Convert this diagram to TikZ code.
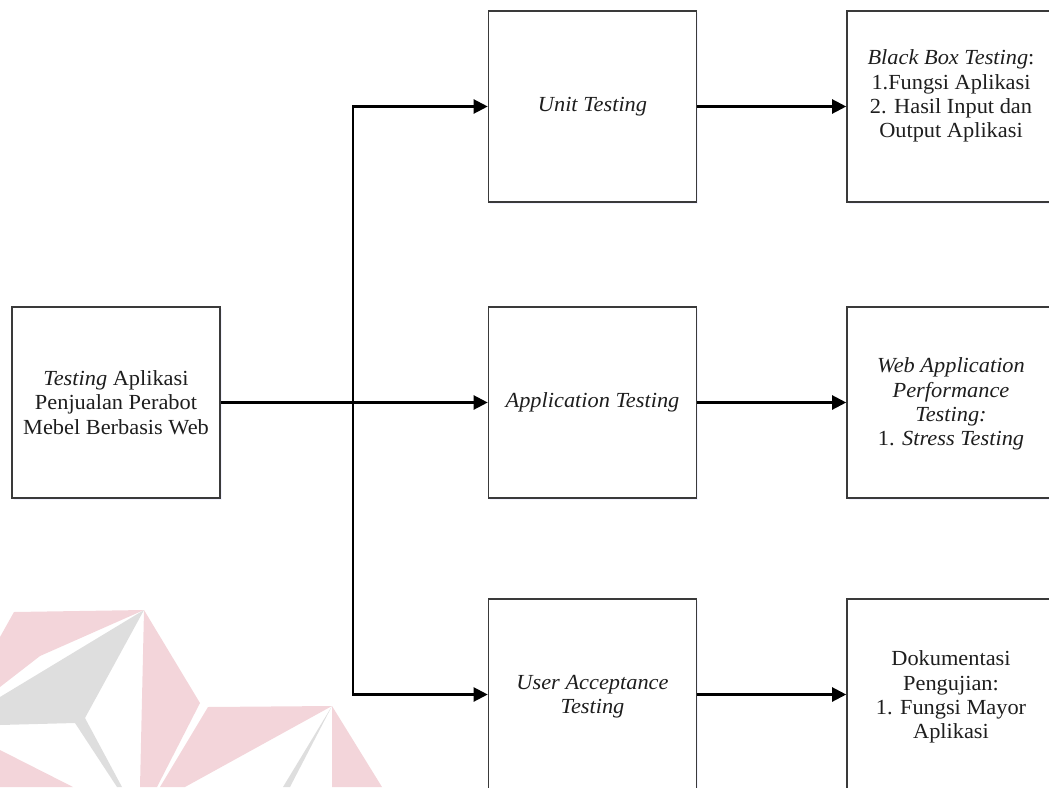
\documentclass[tikz,border=0pt]{standalone}
\usepackage{fontspec}
\setmainfont{Liberation Serif}[FakeStretch=1.04]
\usetikzlibrary{arrows.meta,shadows}
\definecolor{boxline}{HTML}{3A3A3A}
\definecolor{ink}{HTML}{1E1E1E}
\definecolor{wmpink}{HTML}{F3D5DA}
\definecolor{wmgray}{HTML}{DEDEDE}
\tikzset{
  box/.style={draw=boxline, line width=1.6pt, fill=white, minimum width=208pt,
    minimum height=191pt, inner sep=0pt, align=center,
    drop shadow={shadow xshift=1.5pt, shadow yshift=-2pt, opacity=0.18, fill=blue!25}},
  label/.style={text=ink, align=center, font=\fontsize{21.5}{24.3}\selectfont, inner sep=0pt},
  link/.style={draw=black, line width=2.2pt, -{Triangle[length=14pt,width=14pt]}},
  plain/.style={draw=black, line width=2.2pt}
}
\begin{document}
\begin{tikzpicture}[x=1pt,y=-1pt]
\useasboundingbox (0,0) rectangle (1049,787);
\clip (0,0) rectangle (1049,787);

% faint logo in the lower left corner
\fill[wmpink] (0,637) -- (14,612) -- (144,610) -- (40,656) -- (0,687) -- cycle;
\fill[wmgray] (144,610) -- (0,697) -- (0,725) -- (75,723) -- (117,787) -- (122,787) -- (85,718) -- cycle;
\fill[wmpink] (144,610) -- (200,703) -- (157,787) -- (140,787) -- cycle;
\fill[wmpink] (0,750) -- (73,787) -- (0,787) -- cycle;
\fill[wmpink] (208,707) -- (332,706) -- (185,787) -- (160,787) -- cycle;
\fill[wmgray] (332,706) -- (283,787) -- (290,787) -- cycle;
\fill[wmpink] (332,706) -- (382,787) -- (332,787) -- cycle;

% boxes
\node[box] (root) at (116,402.5) {};
\node[box] (unit) at (592.5,106.5) {};
\node[box] (app)  at (592.5,402.5) {};
\node[box] (uat)  at (592.5,694.5) {};
\node[box] (bbt)  at (951,106.5) {};
\node[box] (perf) at (951,402.5) {};
\node[box] (doc)  at (951,694.5) {};

% texts
\node[label] (rootT) at (root) {\textit{Testing} Aplikasi\\Penjualan Perabot\\Mebel Berbasis Web};
\node[label] (unitT) at (unit) {\textit{Unit Testing}};
\node[label] (appT)  at (app)  {\textit{Application Testing}};
\node[label] (uatT)  at (592.5,697) {\textit{User Acceptance}\\\textit{Testing}};
\node[label] (bbtT)  at (951,96) {\textit{Black Box Testing}:\\1.Fungsi Aplikasi\\2. Hasil Input dan\\Output Aplikasi};
\node[label] (perfT) at (951,404) {\textit{Web Application}\\\textit{Performance}\\\textit{Testing:}\\1. \textit{Stress Testing}};
\node[label] (docT)  at (951,697) {Dokumentasi\\Pengujian:\\1. Fungsi Mayor\\Aplikasi};

% connectors
\coordinate (trunk) at (353,402.5);
\draw[plain] (root.east) -- (trunk);
\draw[link] (trunk) -- (app.west);
\draw[link] (trunk) |- (unit.west);
\draw[link] (trunk) |- (uat.west);
\draw[link] (unit.east) -- (bbt.west);
\draw[link] (app.east) -- (perf.west);
\draw[link] (uat.east) -- (doc.west);
\end{tikzpicture}
\end{document}
